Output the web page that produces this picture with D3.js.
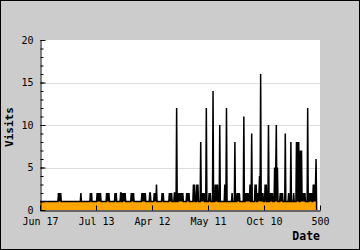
<!DOCTYPE html>
<html>
<head>
<meta charset="utf-8">
<script src="https://cdn.jsdelivr.net/npm/d3@7"></script>
<style>
  body { margin: 0; }
  svg text { font-family: "DejaVu Sans Mono", monospace; }
</style>
</head>
<body>
<div id="chart"></div>
<script>
// visits per day, one value for each day shown
const visits = [
  1,1,1,1,1,1,1,1,1,1,1,1,1,1,1,1,1,1,1,1,1,1,1,1,1,
  1,1,1,1,1,1,1,1,2,1,2,1,2,1,1,1,1,1,1,1,1,1,1,1,1,
  1,1,1,1,1,1,1,1,1,1,1,1,1,1,1,1,1,1,1,1,1,1,1,2,1,
  1,1,1,1,1,1,1,1,1,1,1,1,1,1,1,2,1,2,1,1,1,1,1,1,1,
  1,1,2,1,2,1,2,1,2,1,1,1,1,1,1,1,1,1,1,2,1,2,1,2,1,
  1,1,1,1,1,1,1,1,1,2,1,2,1,1,1,1,1,1,1,2,2,1,1,2,1,
  2,1,2,1,1,1,1,1,1,1,1,1,1,2,1,2,1,2,1,1,1,1,1,1,1,
  1,1,1,1,1,1,1,2,1,2,1,2,1,2,1,1,1,1,1,1,1,2,2,1,1,
  1,1,1,1,2,1,2,1,3,1,1,1,1,1,1,1,1,1,2,1,2,1,1,1,1,
  1,1,1,1,1,1,2,1,2,1,2,1,1,1,1,2,2,1,1,12,1,1,2,1,2,
  1,2,1,2,1,2,1,1,1,1,1,1,2,1,2,1,2,1,1,1,1,1,1,1,3,
  1,3,1,1,1,3,1,3,1,1,1,1,8,1,2,1,2,1,2,1,1,1,12,1,1,
  1,1,2,1,2,1,1,1,1,14,1,1,1,3,1,3,1,3,1,1,1,10,1,1,1,
  1,1,1,1,1,3,1,1,12,1,1,1,1,1,1,1,1,1,2,1,1,1,1,8,1,
  1,1,2,1,2,1,2,1,1,1,1,1,1,1,11,1,1,2,1,2,1,2,1,2,1,
  3,1,1,9,1,1,1,1,1,3,1,3,1,1,2,1,2,4,1,16,1,2,1,2,1,
  1,1,3,1,3,1,1,1,10,1,1,2,1,2,1,2,1,1,1,5,1,5,10,1,5,
  1,1,1,1,2,1,2,1,2,1,1,1,1,9,1,1,1,1,1,2,1,1,1,8,1,
  1,1,1,2,1,1,1,1,8,1,8,1,8,1,1,7,1,7,1,2,1,2,1,2,1,
  1,1,1,12,1,1,2,1,2,1,2,1,1,3,1,3,1,3,6,0
];

const xTickDays = [0, 100, 200, 300, 400, 500];
const xTickLabels = ["Jun 17", "Jul 13", "Apr 12", "May 11", "Oct 10", "500"];
const yMajorTicks = [0, 5, 10, 15, 20];
const yGridTicks = [5, 10, 15];

const width = 360;
const height = 250;
const margin = { top: 40, right: 40, bottom: 40, left: 40 };

const svg = d3
  .select("#chart")
  .append("svg")
  .attr("width", width)
  .attr("height", height);

// grey frame
svg
  .append("rect")
  .attr("x", 0.5)
  .attr("y", 0.5)
  .attr("width", width - 1)
  .attr("height", height - 1)
  .attr("fill", "#cccccc")
  .attr("stroke", "#000");

const x = d3
  .scaleLinear()
  .domain([0, 500])
  .range([margin.left, width - margin.right]);

const y = d3
  .scaleLinear()
  .domain([0, 20])
  .range([height - margin.bottom, margin.top]);

svg
  .append("rect")
  .attr("x", margin.left)
  .attr("y", margin.top)
  .attr("width", width - margin.left - margin.right)
  .attr("height", height - margin.top - margin.bottom)
  .attr("fill", "#fff");

// grid
svg
  .selectAll("line.grid")
  .data(yGridTicks)
  .enter()
  .append("line")
  .attr("class", "grid")
  .attr("x1", margin.left)
  .attr("x2", width - margin.right)
  .attr("y1", (d) => Math.round(y(d)) + 0.5)
  .attr("y2", (d) => Math.round(y(d)) + 0.5)
  .attr("stroke", "#dddddd");

const days = visits.map((v, i) => i);

const area = d3
  .area()
  .x((i) => x(i))
  .y0(y(0))
  .y1((i) => y(visits[i]));

const line = d3
  .line()
  .x((i) => x(i))
  .y((i) => y(visits[i]));

svg.append("path").datum(days).attr("d", area).attr("fill", "orange");

svg
  .append("path")
  .datum(days)
  .attr("d", line)
  .attr("fill", "none")
  .attr("stroke", "#000")
  .attr("stroke-width", 1.5);

// y axis: minor ticks then labelled ticks, all pointing inwards
svg
  .append("g")
  .attr("transform", "translate(40.5,0)")
  .call(d3.axisLeft(y).ticks(20).tickSizeInner(-3).tickSizeOuter(0).tickFormat(""))
  .call((g) => g.select(".domain").remove());

const yAxis = svg
  .append("g")
  .attr("transform", "translate(40.5,0)")
  .call(
    d3
      .axisLeft(y)
      .tickValues(yMajorTicks)
      .tickSizeInner(-5)
      .tickSizeOuter(0)
      .tickPadding(7)
  );

yAxis.selectAll("text").attr("font-size", "10px").attr("font-family", "DejaVu Sans Mono").attr("fill", "#000");
yAxis.selectAll("line, path").attr("stroke", "#000");

const xAxis = svg
  .append("g")
  .attr("transform", "translate(0,210.5)")
  .call(
    d3
      .axisBottom(x)
      .tickValues(xTickDays)
      .tickFormat((d, i) => xTickLabels[i])
      .tickSizeInner(-5)
      .tickSizeOuter(0)
      .tickPadding(7)
  );

xAxis.selectAll("text").attr("font-size", "10px").attr("font-family", "DejaVu Sans Mono").attr("fill", "#000");
xAxis.selectAll("line, path").attr("stroke", "#000");

svg
  .append("text")
  .attr("transform", "translate(13,127) rotate(-90)")
  .attr("text-anchor", "middle")
  .attr("font-size", "11px")
  .attr("font-weight", "bold")
  .text("Visits");

svg
  .append("text")
  .attr("x", 320)
  .attr("y", 240)
  .attr("text-anchor", "end")
  .attr("font-size", "11.5px")
  .attr("font-weight", "bold")
  .text("Date");
</script>
</body>
</html>
